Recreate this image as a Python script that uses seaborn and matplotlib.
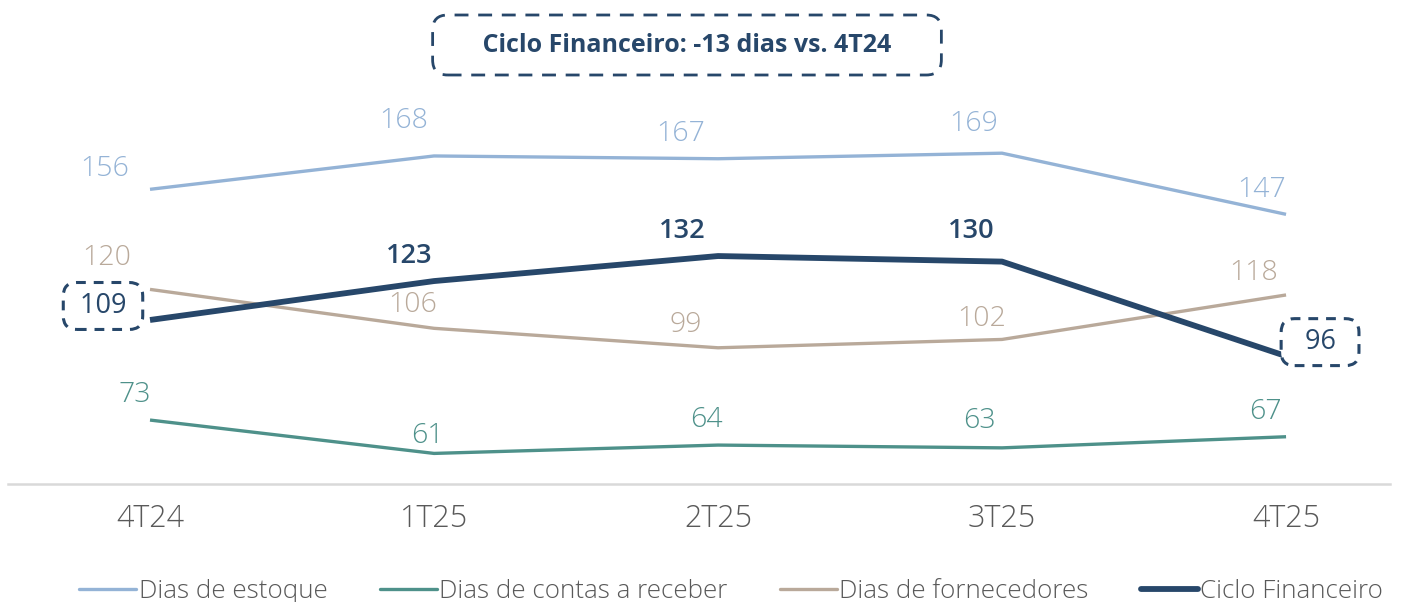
import matplotlib
matplotlib.use("Agg")
import matplotlib.pyplot as plt
import seaborn as sns
import pandas as pd

# ---- data ----
quarters = ["4T24", "1T25", "2T25", "3T25", "4T25"]
dias_estoque = [156, 168, 167, 169, 147]
dias_contas_receber = [73, 61, 64, 63, 67]
dias_fornecedores = [120, 106, 99, 102, 118]
ciclo_financeiro = [109, 123, 132, 130, 96]
series_names = ["Dias de estoque", "Dias de contas a receber",
                "Dias de fornecedores", "Ciclo Financeiro"]
title_text = "Ciclo Financeiro: -13 dias vs. 4T24"

# ---- styling ----
colors = ["#94b3d6", "#4e918a", "#b9a99a", "#27476a"]
widths = [2.4, 2.4, 2.4, 4.2]
# label offsets in pixels (dx, dy) relative to each point
offsets = [
    [(-45, 20), (-30, 35), (-37, 25), (-28, 29), (-24, 24)],
    [(-15, 25), (-7, 17), (-12, 25), (-23, 27), (-21, 25)],
    [(-43, 31), (-21, 23), (-32, 23), (-20, 20), (-32, 22)],
    [(-47, 14), (-25, 25), (-36, 25), (-31, 31), (34, 14)],
]
boxed = {(3, 0): " {} ", (3, 4): "  {}  "}

sns.set_theme(style="white")
plt.rcParams["font.family"] = ["Open Sans", "DejaVu Sans"]

W, H = 1417, 602
fig = plt.figure(figsize=(W / 100, H / 100), dpi=100)
ax = fig.add_axes([8 / W, (H - 484) / H, (1390 - 8) / W, 484 / H])

values = [dias_estoque, dias_contas_receber, dias_fornecedores, ciclo_financeiro]
rows = []
for name, vals in zip(series_names, values):
    for i, v in enumerate(vals):
        rows.append({"x": i, "q": quarters[i], "serie": name, "v": v})
df = pd.DataFrame(rows)

sns.lineplot(data=df, x="x", y="v", hue="serie", hue_order=series_names,
             palette=colors, ax=ax, legend=False)
for line, lw in zip(ax.lines, widths):
    line.set_linewidth(lw)
    line.set_solid_capstyle("butt")

ax.set_xlim(-0.5, 4.366)
ax.set_ylim(50, 50 + 484 / 2.78)
ax.set_xticks(range(len(quarters)))
ax.set_xticklabels(quarters, fontsize=22, color="#595959", fontweight="light")
ax.tick_params(axis="x", length=0, pad=14)
ax.set_yticks([])
ax.set_xlabel("")
ax.set_ylabel("")
for s in ["top", "left", "right"]:
    ax.spines[s].set_visible(False)
ax.spines["bottom"].set_color("#d9d9d9")
ax.spines["bottom"].set_linewidth(1.8)

for si, vals in enumerate(values):
    for i, v in enumerate(vals):
        dx, dy = offsets[si][i]
        kw = dict(fontsize=20.5, color=colors[si], ha="center", va="center",
                  fontweight="light")
        label = str(v)
        if si == 3:
            kw["fontweight"] = "semibold"
            kw["fontsize"] = 19.5
        if (si, i) in boxed:
            kw["bbox"] = dict(boxstyle="round,pad=0.35,rounding_size=0.5",
                              fc="white", ec=colors[3], lw=2.2, ls=(0, (3.2, 2.6)))
            kw["fontweight"] = "normal"
            label = boxed[(si, i)].format(v)
        ax.annotate(label, (i, v), xytext=(dx * 0.72, dy * 0.72),
                    textcoords="offset points", **kw)

fig.text(687 / W, 1 - 45 / H, "     " + title_text + "     ", ha="center", va="center",
         fontsize=18, fontweight="bold", color=colors[3],
         bbox=dict(boxstyle="round,pad=0.7,rounding_size=0.6", fc="white",
                   ec=colors[3], lw=2.0, ls=(0, (5, 3.5))))

handles = [plt.Line2D([], [], color=c, lw=lw) for c, lw in zip(colors, widths)]
fig.legend(handles, series_names, loc="center", bbox_to_anchor=(0.516, 1 - 592 / H),
           ncol=4, frameon=False, handlelength=2.2,
           handletextpad=0.1, columnspacing=2.0, labelcolor="#595959",
           prop={"weight": "light", "size": 18.7})

fig.savefig("out.png", dpi=100)
